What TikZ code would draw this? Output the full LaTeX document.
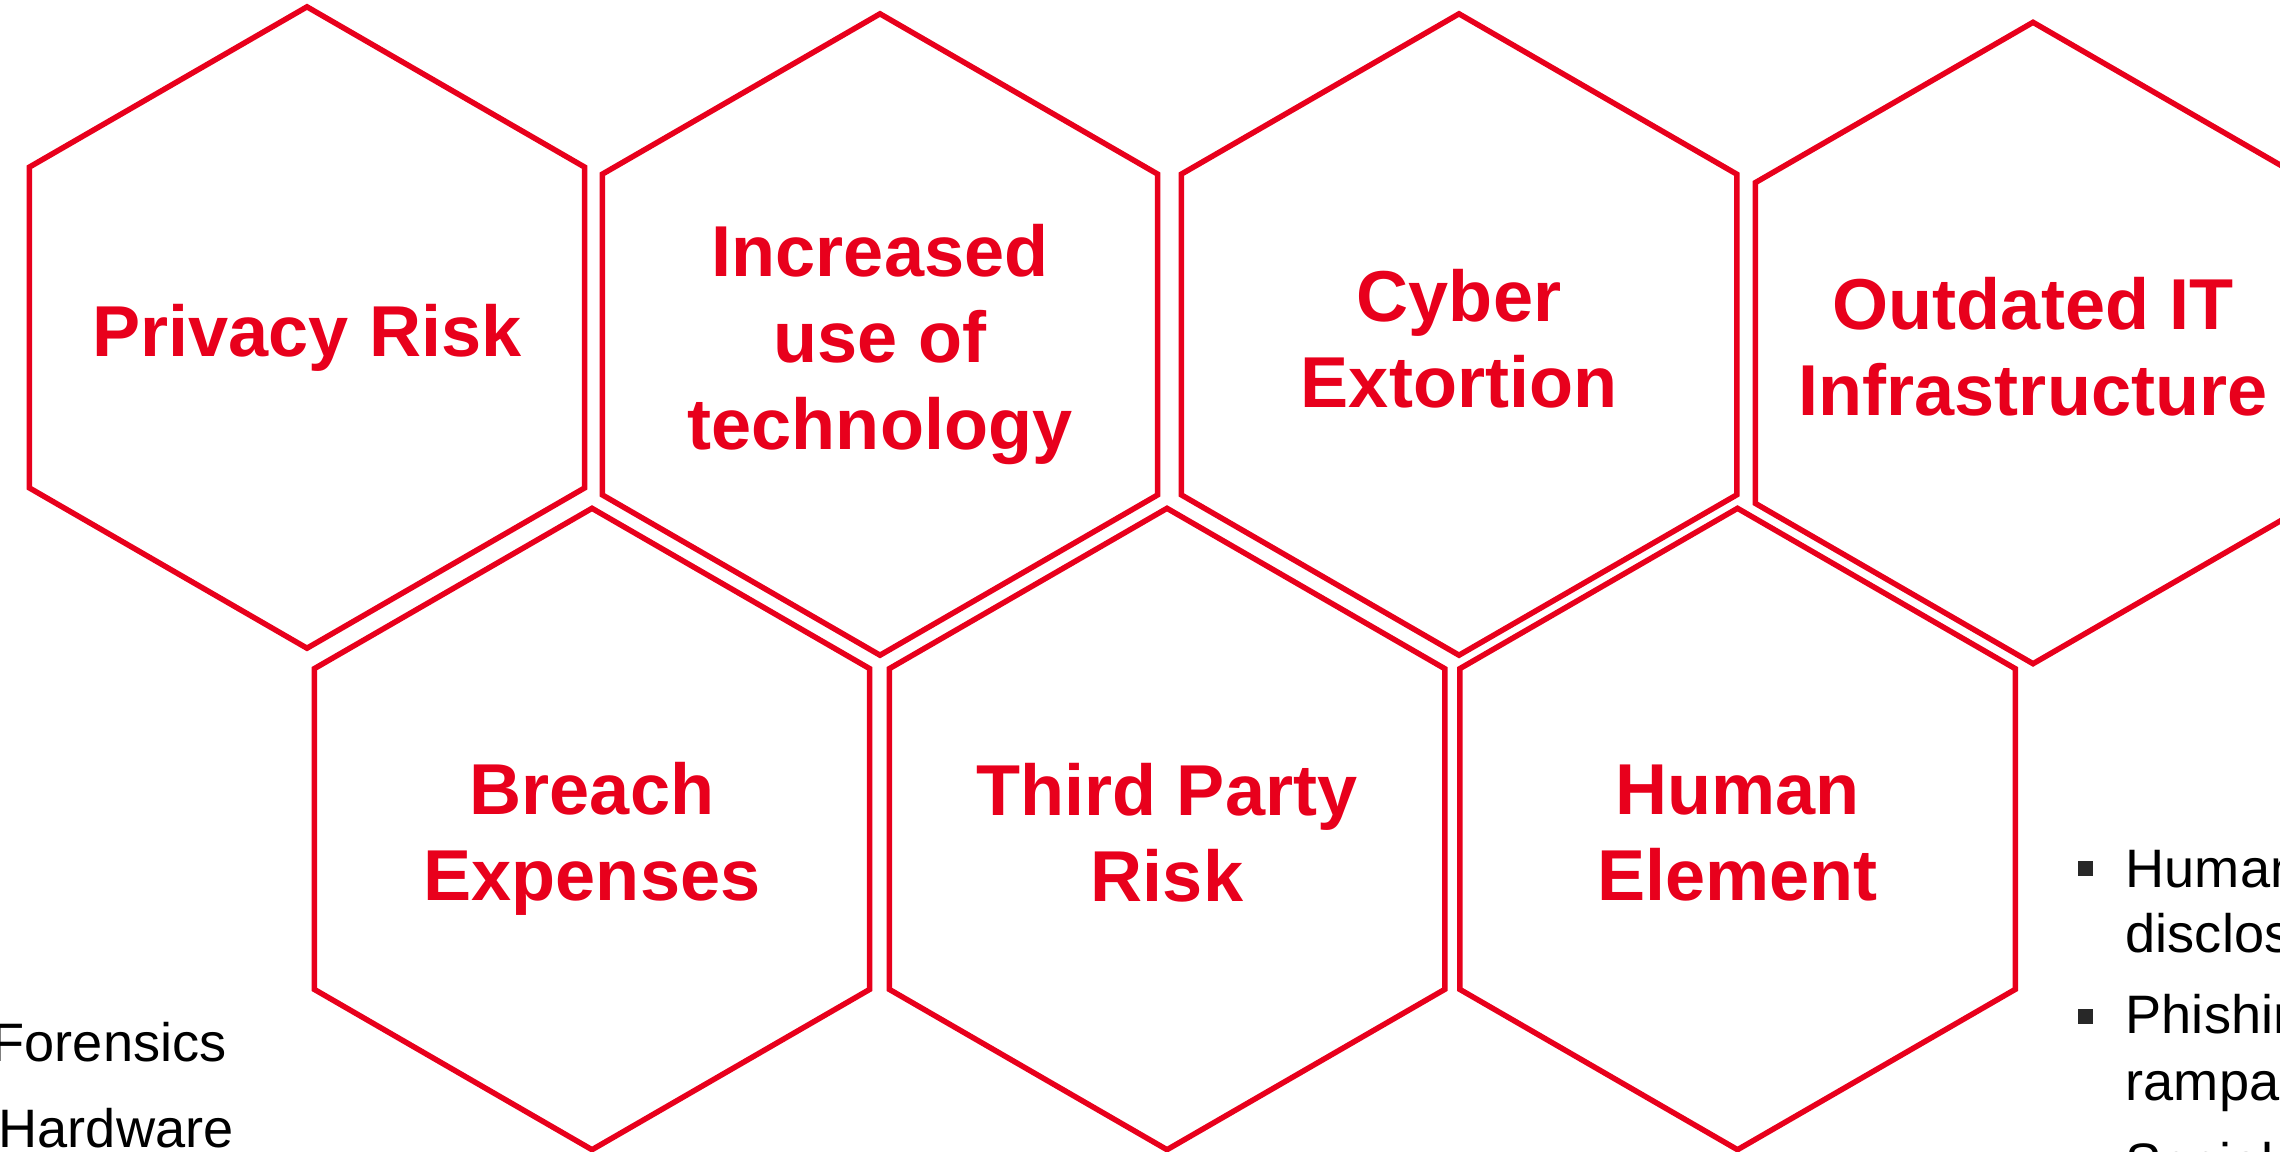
\documentclass[tikz,border=0pt]{standalone}
\usepackage{fontspec}
\setmainfont{Liberation Sans}
\usetikzlibrary{shapes.geometric}
\definecolor{rkred}{RGB}{232,0,28}
\definecolor{rkgrey}{RGB}{40,40,40}
\tikzset{
  rkhex/.style={regular polygon, regular polygon sides=6, regular polygon rotate=30,
                draw=rkred, line width=0.055cm, minimum size=6.41cm, inner sep=0pt,
                outer sep=0pt},
  rktext/.style={text=rkred, align=center, inner sep=0pt, yshift=-0.1cm,
                 font=\fontsize{20.5}{24.5}\selectfont\bfseries},
  rklist/.style={anchor=base west, inner sep=0pt, font=\fontsize{15.4}{18}\selectfont},
  rkbullet/.style={fill=rkgrey, minimum size=0.15cm, inner sep=0pt},
}

\begin{document}
\begin{tikzpicture}[x=0.01cm, y=-0.01cm]
  \clip (0,0) rectangle (2280,1151);

  % upper row
  \node[rkhex] (privacy) at (307,327.5) {};
  \node[rkhex] (techuse) at (880,334.5) {};
  \node[rkhex] (extort)  at (1459,334.5) {};
  \node[rkhex] (legacy)  at (2033,343) {};

  % lower row
  \node[rkhex] (breach)  at (592,829) {};
  \node[rkhex] (vendor)  at (1167,829) {};
  \node[rkhex] (human)   at (1737.5,829) {};

  % captions (no descender in the last line -> nudge up)
  \node[rktext] (privacy-t) at (privacy) {Privacy Risk};
  \node[rktext] (techuse-t) at (techuse) {Increased\\use of\\technology};
  \node[rktext, yshift=0.06cm] (extort-t) at (extort) {Cyber\\Extortion};
  \node[rktext, yshift=0.06cm] (legacy-t) at (legacy) {Outdated IT\\Infrastructure};
  \node[rktext] (breach-t)  at (breach)  {Breach\\Expenses};
  \node[rktext, yshift=0.06cm] (vendor-t) at (vendor) {Third Party\\Risk};
  \node[rktext, yshift=0.06cm] (human-t)  at (human)  {Human\\Element};

  % list text running off the left edge
  \node[rklist] (forensics) at (-9,1061) {Forensics};
  \node[rklist] (hardware)  at (-2,1147) {Hardware};

  % bullet list running off the right edge
  \node[rkbullet] (b1) at (2085,868) {};
  \node[rkbullet] (b2) at (2085,1016) {};
  \node[rklist] (h1) at (2125,887)  {Human};
  \node[rklist] (h2) at (2125,952)  {disclosure};
  \node[rklist] (p1) at (2125,1033) {Phishing};
  \node[rklist] (p2) at (2125,1100) {rampant};
  \node[rklist] (s1) at (2125,1181) {Social};
\end{tikzpicture}
\end{document}
